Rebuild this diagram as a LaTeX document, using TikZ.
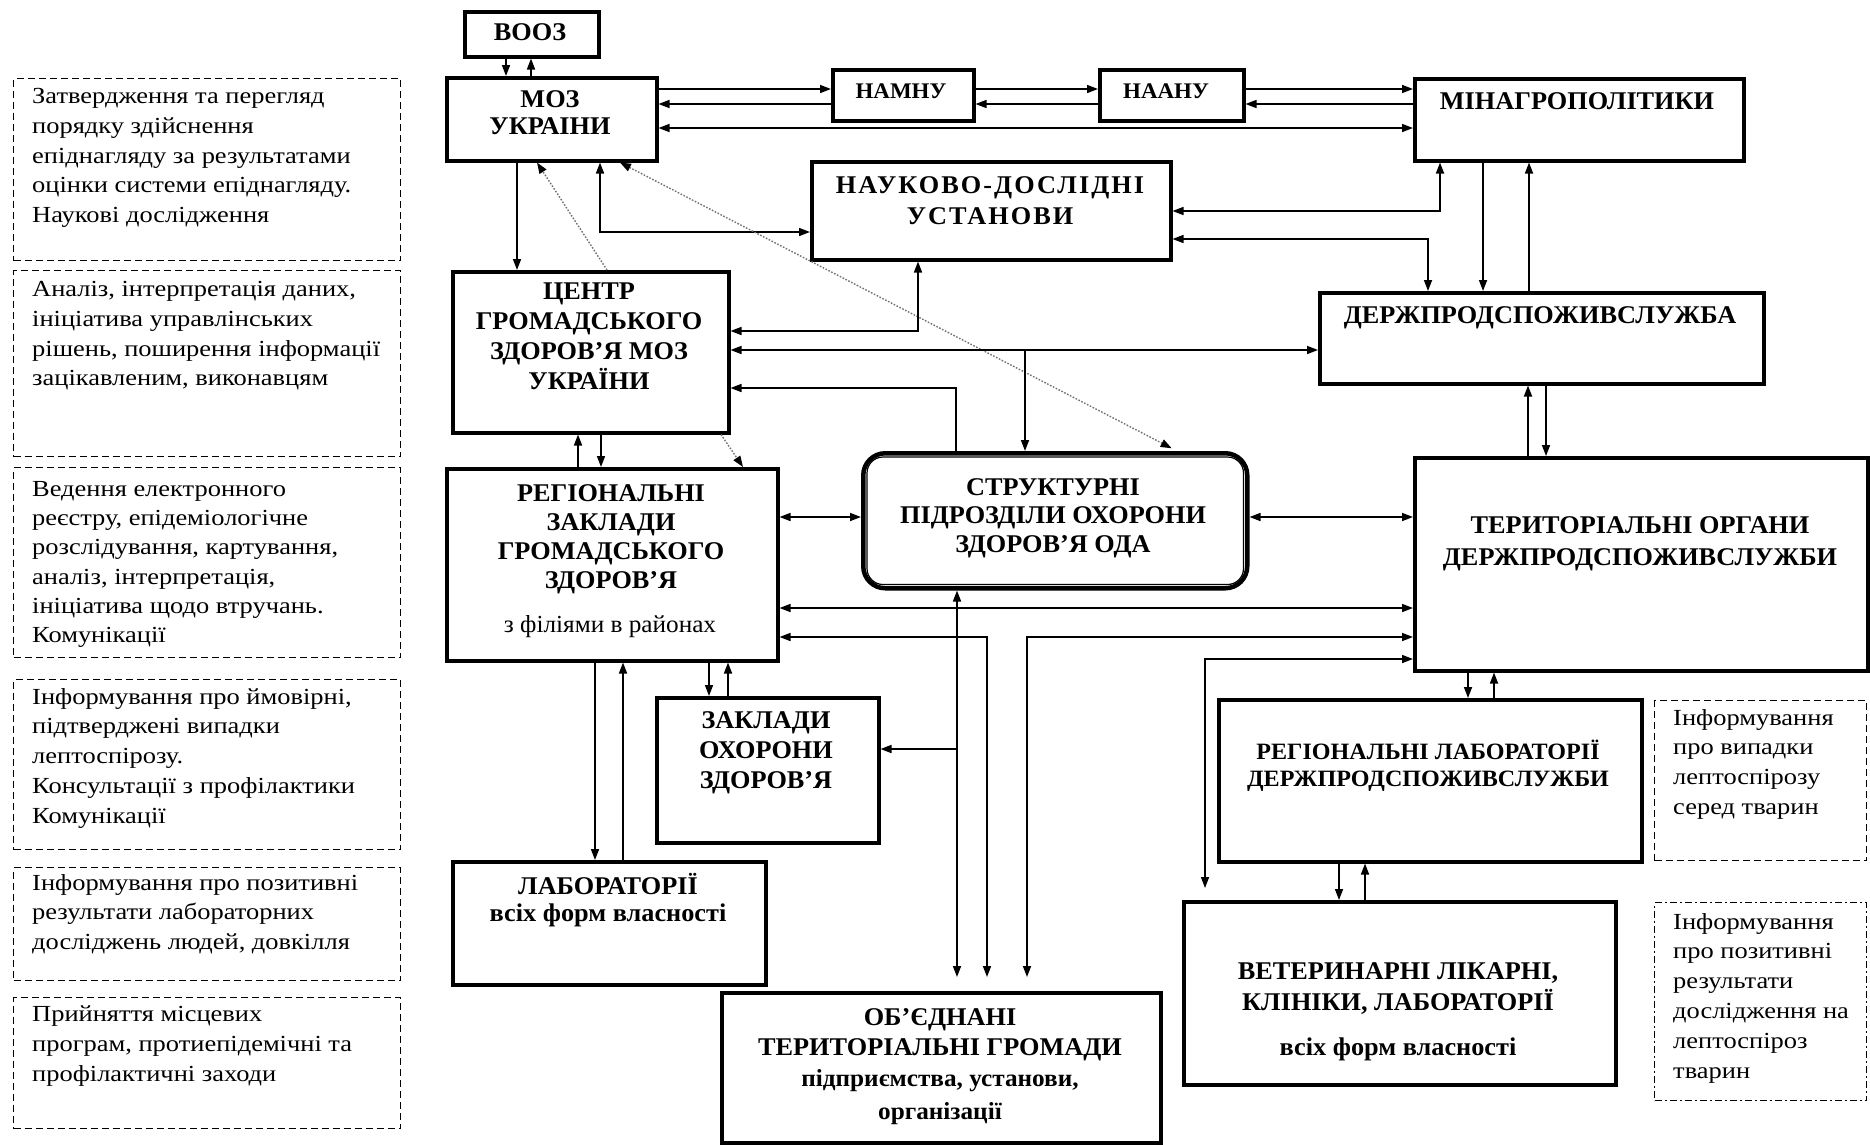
\documentclass[tikz,border=0pt]{standalone}
\usepackage{fontspec}
\setmainfont{Liberation Serif}[FakeStretch=1.15]
\newfontfamily\tfont{Liberation Serif}[FakeStretch=1.03]
\usetikzlibrary{arrows.meta}
\begin{document}
\begin{tikzpicture}[x=1pt,y=-1pt,
  box/.style={draw, line width=3.5pt, inner sep=0pt, anchor=north west},
  dbox/.style={draw, line width=1.3pt, dash pattern=on 7pt off 4pt, inner sep=0pt, anchor=north west},
  ddbox/.style={draw, line width=1.3pt, dash pattern=on 7pt off 3pt on 2pt off 3pt, inner sep=0pt, anchor=north west},
  ttl/.style={font=\tfont\fontsize{25.5}{29}\selectfont\bfseries, align=center, inner sep=0pt},
  note/.style={font=\fontsize{23}{29.8}\selectfont, align=left, inner sep=0pt, anchor=north west},
  con/.style={line width=1.6pt},
  arr/.style={con, -{Triangle[length=11pt,width=8pt]}},
  darr/.style={con, {Triangle[length=11pt,width=8pt]}-{Triangle[length=11pt,width=8pt]}},
  dots/.style={line width=1.4pt, draw=black!55, dash pattern=on 1.6pt off 1.6pt},
  dtip/.style={-{Triangle[length=11pt,width=8pt,color=black]}},
  ddtip/.style={{Triangle[length=11pt,width=8pt,color=black]}-{Triangle[length=11pt,width=8pt,color=black]}},
]
\useasboundingbox[fill=white] (0,0) rectangle (1870,1144);

% ---------- dashed note boxes ----------
\node[dbox, minimum width=387pt, minimum height=182pt] (d1) at (13,78) {};
\node[dbox, minimum width=387pt, minimum height=186pt] (d2) at (13,270) {};
\node[dbox, minimum width=387pt, minimum height=190pt] (d3) at (13,467) {};
\node[dbox, minimum width=387pt, minimum height=170pt] (d4) at (13,679) {};
\node[dbox, minimum width=387pt, minimum height=113pt] (d5) at (13,867) {};
\node[dbox, minimum width=387pt, minimum height=131pt] (d6) at (13,997) {};
\node[dbox, minimum width=212pt, minimum height=160pt] (d7) at (1654,700) {};
\node[ddbox, minimum width=212pt, minimum height=198pt] (d8) at (1654,902) {};

\node[note] (d1t) at (32,88) {Затвердження та перегляд\\порядку здійснення\\епіднагляду за результатами\\оцінки системи епіднагляду.\\Наукові дослідження};
\node[note] (d2t) at (32,281) {Аналіз, інтерпретація даних,\\ініціатива управлінських\\рішень, поширення інформації\\зацікавленим, виконавцям};
\node[note, font=\fontsize{23}{29.3}\selectfont] (d3t) at (32,481) {Ведення електронного\\реєстру, епідеміологічне\\розслідування, картування,\\аналіз, інтерпретація,\\ініціатива щодо втручань.\\Комунікації};
\node[note] (d4t) at (32,688) {Інформування про ймовірні,\\підтверджені випадки\\лептоспірозу.\\Консультації з профілактики\\Комунікації};
\node[note] (d5t) at (32,874) {Інформування про позитивні\\результати лабораторних\\досліджень людей, довкілля};
\node[note] (d6t) at (32,1006) {Прийняття місцевих\\програм, протиепідемічні та\\профілактичні заходи};
\node[note] (d7t) at (1673,709) {Інформування\\про випадки\\лептоспірозу\\серед тварин};
\node[note] (d8t) at (1673,913) {Інформування\\про позитивні\\результати\\дослідження на\\лептоспіроз\\тварин};

% ---------- boxes ----------
\node[box, minimum width=134pt, minimum height=45pt] (vooz) at (463,10) {};
\node[box, minimum width=210pt, minimum height=83pt] (moz) at (445,76) {};
\node[box, minimum width=141pt, minimum height=51pt] (namnu) at (831,68) {};
\node[box, minimum width=144pt, minimum height=51pt] (naanu) at (1098,68) {};
\node[box, minimum width=329pt, minimum height=82pt] (min) at (1413,77) {};
\node[box, minimum width=359pt, minimum height=98pt] (nauk) at (810,160) {};
\node[box, minimum width=276pt, minimum height=161pt] (centr) at (451,270) {};
\node[box, minimum width=444pt, minimum height=91pt] (derzh) at (1318,291) {};
\node[box, minimum width=331pt, minimum height=192pt] (reg) at (445,467) {};
\node[draw, line width=4.5pt, rounded corners=22pt, inner sep=0pt, anchor=north west,
      minimum width=384pt, minimum height=135pt] (strukt) at (861,451) {};
\draw[line width=1.2pt, rounded corners=16pt] ([shift={(6,6)}]strukt.north west) rectangle ([shift={(-6,-6)}]strukt.south east);
\node[box, minimum width=453pt, minimum height=213pt] (terit) at (1413,456) {};
\node[box, minimum width=222pt, minimum height=145pt] (zakl) at (655,696) {};
\node[box, minimum width=313pt, minimum height=123pt] (lab) at (451,860) {};
\node[box, minimum width=439pt, minimum height=150pt] (obed) at (720,991) {};
\node[box, minimum width=423pt, minimum height=162pt] (reglab) at (1217,698) {};
\node[box, minimum width=432pt, minimum height=183pt] (veter) at (1182,900) {};

% ---------- titles ----------
\node[ttl] (vooz-t) at (530,32) {ВООЗ};
\node[ttl, anchor=north, font=\tfont\fontsize{25.5}{27}\selectfont\bfseries] (moz-t) at (550,90) {МОЗ\\УКРАІНИ};
\node[ttl, font=\tfont\fontsize{22.3}{26}\selectfont\bfseries] (namnu-t) at (901,91) {НАМНУ};
\node[ttl, font=\tfont\fontsize{22.3}{26}\selectfont\bfseries] (naanu-t) at (1166,91) {НААНУ};
\node[ttl] (min-t) at (1577,101) {МІНАГРОПОЛІТИКИ};
\node[ttl, anchor=north, font=\tfont\fontsize{25.5}{31}\selectfont\bfseries\addfontfeature{LetterSpace=8}] (nauk-t) at (990,176) {НАУКОВО-ДОСЛІДНІ\\УСТАНОВИ};
\node[ttl, anchor=north, font=\tfont\fontsize{25.5}{30}\selectfont\bfseries] (centr-t) at (589,283) {ЦЕНТР\\ГРОМАДСЬКОГО\\ЗДОРОВ’Я МОЗ\\УКРАЇНИ};
\node[ttl] (derzh-t) at (1540,318) {ДЕРЖПРОДСПОЖИВСЛУЖБА};
\node[ttl, anchor=north] (reg-t) at (611,484) {РЕГІОНАЛЬНІ\\ЗАКЛАДИ\\ГРОМАДСЬКОГО\\ЗДОРОВ’Я};
\node[ttl, font=\tfont\fontsize{24.5}{28}\selectfont] (reg-s) at (610,627) {з філіями в районах};
\node[ttl, anchor=north, font=\tfont\fontsize{25.5}{28.5}\selectfont\bfseries] (strukt-t) at (1053,478) {СТРУКТУРНІ\\ПІДРОЗДІЛИ ОХОРОНИ\\ЗДОРОВ’Я ОДА};
\node[ttl, anchor=north, font=\tfont\fontsize{25.5}{32}\selectfont\bfseries] (terit-t) at (1640,516) {ТЕРИТОРІАЛЬНІ ОРГАНИ\\ДЕРЖПРОДСПОЖИВСЛУЖБИ};
\node[ttl, anchor=north, font=\tfont\fontsize{25.5}{30}\selectfont\bfseries] (zakl-t) at (766,711) {ЗАКЛАДИ\\ОХОРОНИ\\ЗДОРОВ’Я};
\node[ttl] (lab-t) at (608,884) {ЛАБОРАТОРІЇ};
\node[ttl] (lab-s) at (608,915) {всіх форм власності};
\node[ttl, anchor=north, font=\tfont\fontsize{25.5}{30}\selectfont\bfseries] (obed-t) at (940,1008) {ОБ’ЄДНАНІ\\ТЕРИТОРІАЛЬНІ ГРОМАДИ};
\node[ttl, anchor=north, font=\tfont\fontsize{24.5}{33}\selectfont\bfseries] (obed-s) at (940,1069) {підприємства, установи,\\організації};
\node[ttl, anchor=north, font=\tfont\fontsize{23.4}{27}\selectfont\bfseries] (reglab-t) at (1428,740) {РЕГІОНАЛЬНІ ЛАБОРАТОРІЇ\\ДЕРЖПРОДСПОЖИВСЛУЖБИ};
\node[ttl, anchor=north, font=\tfont\fontsize{25.5}{31}\selectfont\bfseries] (veter-t) at (1398,962) {ВЕТЕРИНАРНІ ЛІКАРНІ,\\КЛІНІКИ, ЛАБОРАТОРІЇ};
\node[ttl] (veter-s) at (1398,1049) {всіх форм власності};

% ---------- connectors ----------
\draw[arr] (506,0 |- vooz.south) -- (506,0 |- moz.north);
\draw[arr] (531,0 |- moz.north) -- (531,0 |- vooz.south);

\draw[arr] (moz.east |- 0,89) -- (namnu.west |- 0,89);
\draw[arr] (namnu.west |- 0,104) -- (moz.east |- 0,104);
\draw[arr] (namnu.east |- 0,89) -- (naanu.west |- 0,89);
\draw[arr] (naanu.west |- 0,104) -- (namnu.east |- 0,104);
\draw[arr] (naanu.east |- 0,89) -- (min.west |- 0,89);
\draw[arr] (min.west |- 0,104) -- (naanu.east |- 0,104);
\draw[darr] (moz.east |- 0,128) -- (min.west |- 0,128);

\draw[arr] (517,0 |- moz.south) -- (517,0 |- centr.north);
\draw[dots, dtip] (607,0 |- centr.north) -- (537,0 |- moz.south);
\draw[darr] (nauk.west |- 0,232) -| (600,0 |- moz.south);
\draw[dots, ddtip, shorten >=6pt] (620,0 |- moz.south) -- (1177,0 |- strukt.north);

\draw[darr] (918,0 |- nauk.south) |- (centr.east |- 0,331);
\draw[darr] (centr.east |- 0,350) -- (derzh.west |- 0,350);
\coordinate (j1) at (1025,350);
\draw[arr] (j1) -- (j1 |- strukt.north);
\draw[arr] (956,0 |- strukt.north) |- (centr.east |- 0,388);

\draw[darr] (nauk.east |- 0,211) -| (1440,0 |- min.south);
\draw[darr] (nauk.east |- 0,239) -| (1428,0 |- derzh.north);
\draw[arr] (1483,0 |- min.south) -- (1483,0 |- derzh.north);
\draw[arr] (1529,0 |- derzh.north) -- (1529,0 |- min.south);

\draw[arr] (1528,0 |- terit.north) -- (1528,0 |- derzh.south);
\draw[arr] (1546,0 |- derzh.south) -- (1546,0 |- terit.north);

\draw[arr] (578,0 |- reg.north) -- (578,0 |- centr.south);
\draw[arr] (601,0 |- centr.south) -- (601,0 |- reg.north);
\draw[dots, dtip] (721,0 |- centr.south) -- (743,0 |- reg.north);

\draw[darr] (reg.east |- 0,517) -- (strukt.west |- 0,517);
\draw[darr] (strukt.east |- 0,517) -- (terit.west |- 0,517);
\draw[darr] (reg.east |- 0,608) -- (terit.west |- 0,608);
\draw[darr, shorten >=14pt] (reg.east |- 0,637) -| (987,0 |- obed.north);
\draw[darr, shorten >=14pt] (terit.west |- 0,637) -| (1027,0 |- obed.north);
\draw[darr, shorten >=12pt] (terit.west |- 0,659) -| (1205,0 |- veter.north);
\draw[darr, shorten >=14pt] (957,0 |- strukt.south) -- (957,0 |- obed.north);
\coordinate (j2) at (957,749);
\draw[arr] (j2) -- (zakl.east |- j2);

\draw[arr] (709,0 |- reg.south) -- (709,0 |- zakl.north);
\draw[arr] (728,0 |- zakl.north) -- (728,0 |- reg.south);
\draw[arr] (595,0 |- reg.south) -- (595,0 |- lab.north);
\draw[arr] (623,0 |- lab.north) -- (623,0 |- reg.south);

\draw[arr] (1468,0 |- terit.south) -- (1468,0 |- reglab.north);
\draw[arr] (1494,0 |- reglab.north) -- (1494,0 |- terit.south);
\draw[arr] (1339,0 |- reglab.south) -- (1339,0 |- veter.north);
\draw[arr] (1365,0 |- veter.north) -- (1365,0 |- reglab.south);
\end{tikzpicture}
\end{document}
